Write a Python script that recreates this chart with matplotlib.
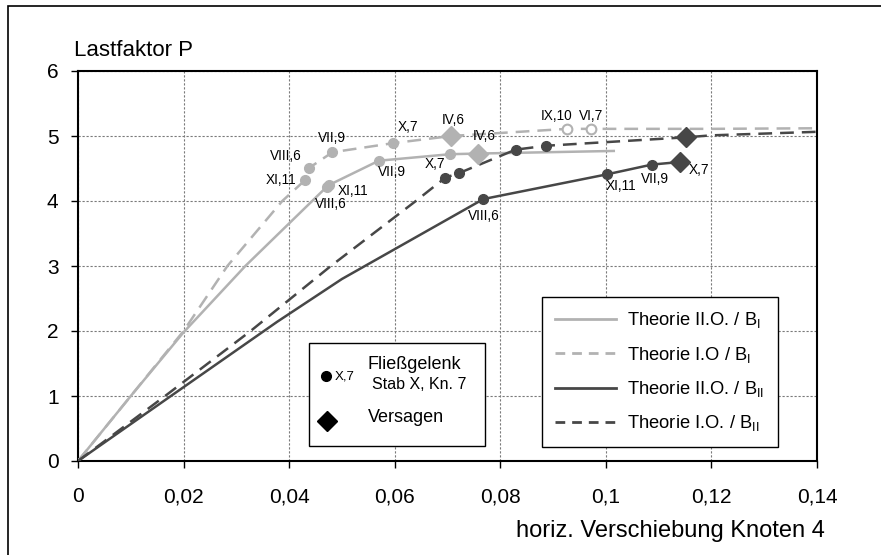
import matplotlib
matplotlib.use('Agg')
import matplotlib.pyplot as plt
from matplotlib.patches import Rectangle
from matplotlib.lines import Line2D

plt.rcParams['font.family'] = ['Liberation Sans', 'DejaVu Sans']
plt.rcParams['mathtext.fontset'] = 'custom'
plt.rcParams['mathtext.rm'] = 'Liberation Sans'

light = '#b2b2b2'
dark = '#474747'

# Theorie II.O. / B_I  (light, solid)
x_II_BI = [0, 0.0100, 0.0200, 0.0317, 0.0474, 0.0570, 0.0705, 0.0758, 0.1015]
y_II_BI = [0, 1.00, 1.98, 3.00, 4.24, 4.62, 4.72, 4.73, 4.77]
hx_II_BI = [0.0472, 0.0476, 0.0570, 0.0705]
hy_II_BI = [4.22, 4.25, 4.62, 4.72]
hl_II_BI = ['XI,11', 'VIII,6', 'VII,9', 'X,7']
fx_II_BI, fy_II_BI, fl_II_BI = 0.0758, 4.73, 'IV,6'

# Theorie I.O / B_I  (light, dashed)
x_I_BI = [0, 0.0200, 0.0283, 0.0387, 0.0430, 0.0438, 0.0482, 0.0597, 0.0707,
          0.0927, 0.0971, 0.1200, 0.1420]
y_I_BI = [0, 2.00, 3.00, 4.00, 4.32, 4.51, 4.75, 4.89, 5.00,
          5.11, 5.11, 5.11, 5.12]
hx_I_BI = [0.0430, 0.0438, 0.0482, 0.0597]
hy_I_BI = [4.32, 4.51, 4.75, 4.89]
hl_I_BI = ['XI,11', 'VIII,6', 'VII,9', 'X,7']
fx_I_BI, fy_I_BI, fl_I_BI = 0.0707, 5.00, 'IV,6'
ox_I_BI = [0.0927, 0.0971]
oy_I_BI = [5.11, 5.11]
ol_I_BI = ['IX,10', 'VI,7']

# Theorie II.O. / B_II  (dark, solid)
x_II_BII = [0, 0.0176, 0.0377, 0.0500, 0.0768, 0.1002, 0.1087, 0.1140]
y_II_BII = [0, 1.00, 2.14, 2.80, 4.03, 4.41, 4.56, 4.60]
hx_II_BII = [0.0768, 0.1002, 0.1087]
hy_II_BII = [4.03, 4.41, 4.56]
hl_II_BII = ['VIII,6', 'XI,11', 'VII,9']
fx_II_BII, fy_II_BII, fl_II_BII = 0.1140, 4.60, 'X,7'

# Theorie I.O. / B_II  (dark, dashed)
x_I_BII = [0, 0.0165, 0.0327, 0.0479, 0.0640, 0.0696, 0.0722, 0.0829, 0.0887,
           0.1152, 0.1200, 0.1420]
y_I_BII = [0, 1.00, 2.00, 3.00, 4.00, 4.36, 4.43, 4.79, 4.85,
           4.98, 5.01, 5.07]
hx_I_BII = [0.0696, 0.0722, 0.0829, 0.0887]
hy_I_BII = [4.36, 4.43, 4.79, 4.85]
fx_I_BII, fy_I_BII = 0.1152, 4.98

xticks = [0, 0.02, 0.04, 0.06, 0.08, 0.1, 0.12, 0.14]
xticklabels = ['0', '0,02', '0,04', '0,06', '0,08', '0,1', '0,12', '0,14']
yticks = [0, 1, 2, 3, 4, 5, 6]

fig = plt.figure(figsize=(8.81, 5.55), dpi=100)
ax = fig.add_axes([78/881, 94/555, 739/881, 390/555])

dash = (5.5, 3.2)
ax.plot(x_II_BI, y_II_BI, color=light, lw=1.8, zorder=3)
ax.plot(x_I_BI, y_I_BI, color=light, lw=1.8, dashes=dash, zorder=3)
ax.plot(x_II_BII, y_II_BII, color=dark, lw=1.8, zorder=3)
ax.plot(x_I_BII, y_I_BII, color=dark, lw=1.8, dashes=dash, zorder=3)

ms = 7
dms = 10.5
ax.plot(hx_II_BI, hy_II_BI, 'o', color=light, ms=ms, zorder=4)
ax.plot(hx_I_BI, hy_I_BI, 'o', color=light, ms=ms, zorder=4)
ax.plot(ox_I_BI, oy_I_BI, 'o', mfc='white', mec=light, mew=1.5, ms=ms, zorder=4)
ax.plot(hx_II_BII, hy_II_BII, 'o', color=dark, ms=ms, zorder=4)
ax.plot(hx_I_BII, hy_I_BII, 'o', color=dark, ms=ms, zorder=4)
ax.plot([fx_II_BI], [fy_II_BI], 'D', color=light, ms=dms, zorder=5)
ax.plot([fx_I_BI], [fy_I_BI], 'D', color=light, ms=dms, zorder=5)
ax.plot([fx_II_BII], [fy_II_BII], 'D', color=dark, ms=dms, zorder=5)
ax.plot([fx_I_BII], [fy_I_BII], 'D', color=dark, ms=dms, zorder=5)

# point labels: (offset in px right / down, horizontal alignment)
def lab(x, y, s, dx, dy, ha):
    ax.annotate(s, (x, y), xytext=(dx * 0.72, -dy * 0.72), textcoords='offset points',
                ha=ha, va='center', fontsize=9.8, zorder=6)

lab(hx_II_BI[0], hy_II_BI[0], hl_II_BI[0], 11, 4, 'left')
lab(hx_II_BI[1], hy_II_BI[1], hl_II_BI[1], 2, 19, 'center')
lab(hx_II_BI[2], hy_II_BI[2], hl_II_BI[2], -1, 11, 'left')
lab(hx_II_BI[3], hy_II_BI[3], hl_II_BI[3], -5, 10, 'right')
lab(fx_II_BI, fy_II_BI, fl_II_BI, 6, -18, 'center')

lab(hx_I_BI[0], hy_I_BI[0], hl_I_BI[0], -9, 0, 'right')
lab(hx_I_BI[1], hy_I_BI[1], hl_I_BI[1], -8, -12, 'right')
lab(hx_I_BI[2], hy_I_BI[2], hl_I_BI[2], 0, -14, 'center')
lab(hx_I_BI[3], hy_I_BI[3], hl_I_BI[3], 5, -16, 'left')
lab(fx_I_BI, fy_I_BI, fl_I_BI, 2, -16, 'center')
lab(ox_I_BI[0], oy_I_BI[0], ol_I_BI[0], -11, -13, 'center')
lab(ox_I_BI[1], oy_I_BI[1], ol_I_BI[1], 1, -13, 'center')

lab(hx_II_BII[0], hy_II_BII[0], hl_II_BII[0], 0, 17, 'center')
lab(hx_II_BII[1], hy_II_BII[1], hl_II_BII[1], -1, 12, 'left')
lab(hx_II_BII[2], hy_II_BII[2], hl_II_BII[2], 3, 14, 'center')
lab(fx_II_BII, fy_II_BII, fl_II_BII, 9, 8, 'left')

ax.set_xlim(0, 0.14)
ax.set_ylim(0, 6)
ax.set_xticks(xticks)
ax.set_xticklabels(xticklabels)
ax.set_yticks(yticks)
ax.tick_params(labelsize=15, direction='out', length=5, width=1, color='black')
ax.tick_params(axis='x', pad=14)
ax.tick_params(axis='y', pad=9)
ax.grid(True, color='#7a7a7a', lw=0.8, dashes=(2, 1.6))
for s in ax.spines.values():
    s.set_linewidth(1.5)
    s.set_color('black')

ax.text(-0.005, 1.038, 'Lastfaktor P', transform=ax.transAxes, fontsize=16,
        ha='left', va='baseline')
ax.text(1.011, -0.195, 'horiz. Verschiebung Knoten 4', transform=ax.transAxes,
        fontsize=17, ha='right', va='baseline')

# legend of line styles
handles = [
    Line2D([], [], color=light, lw=2),
    Line2D([], [], color=light, lw=2, dashes=(3.5, 2.5)),
    Line2D([], [], color=dark, lw=2),
    Line2D([], [], color=dark, lw=2, dashes=(3.5, 2.5)),
]
labels = ['Theorie II.O. / B$_{\\mathrm{I}}$', 'Theorie I.O / B$_{\\mathrm{I}}$',
          'Theorie II.O. / B$_{\\mathrm{II}}$', 'Theorie I.O. / B$_{\\mathrm{II}}$']
leg = ax.legend(handles, labels, loc='upper left', bbox_to_anchor=(0.6275, 0.4213),
                borderaxespad=0, fontsize=13.2, fancybox=False, framealpha=1,
                edgecolor='black', handlelength=3.3, handletextpad=0.6,
                labelspacing=0.78, borderpad=0.75)
leg.get_frame().set_linewidth(1)

# legend of markers
ax.add_patch(Rectangle((0.3126, 0.0385), 0.2381, 0.2641, transform=ax.transAxes,
                       facecolor='white', edgecolor='black', lw=1, zorder=7))
ax.plot([0.3356], [0.218], 'o', color='black', ms=7, transform=ax.transAxes, zorder=8)
ax.text(0.3478, 0.217, 'X,7', transform=ax.transAxes, fontsize=9.5, va='center', zorder=8)
ax.text(0.3924, 0.2487, 'Fließgelenk', transform=ax.transAxes, fontsize=13,
        va='center', zorder=8)
ax.text(0.3978, 0.1949, 'Stab X, Kn. 7', transform=ax.transAxes, fontsize=11.5,
        va='center', zorder=8)
ax.plot([0.337], [0.1026], 'D', color='black', ms=10.5, transform=ax.transAxes, zorder=8)
ax.text(0.3924, 0.1128, 'Versagen', transform=ax.transAxes, fontsize=13,
        va='center', zorder=8)

fig.add_artist(Rectangle((8/881, -0.02), 1.0, 1 - 6/555 + 0.02, transform=fig.transFigure,
                         fill=False, edgecolor='black', lw=1.2, clip_on=False))

fig.savefig('out.png', dpi=100)
